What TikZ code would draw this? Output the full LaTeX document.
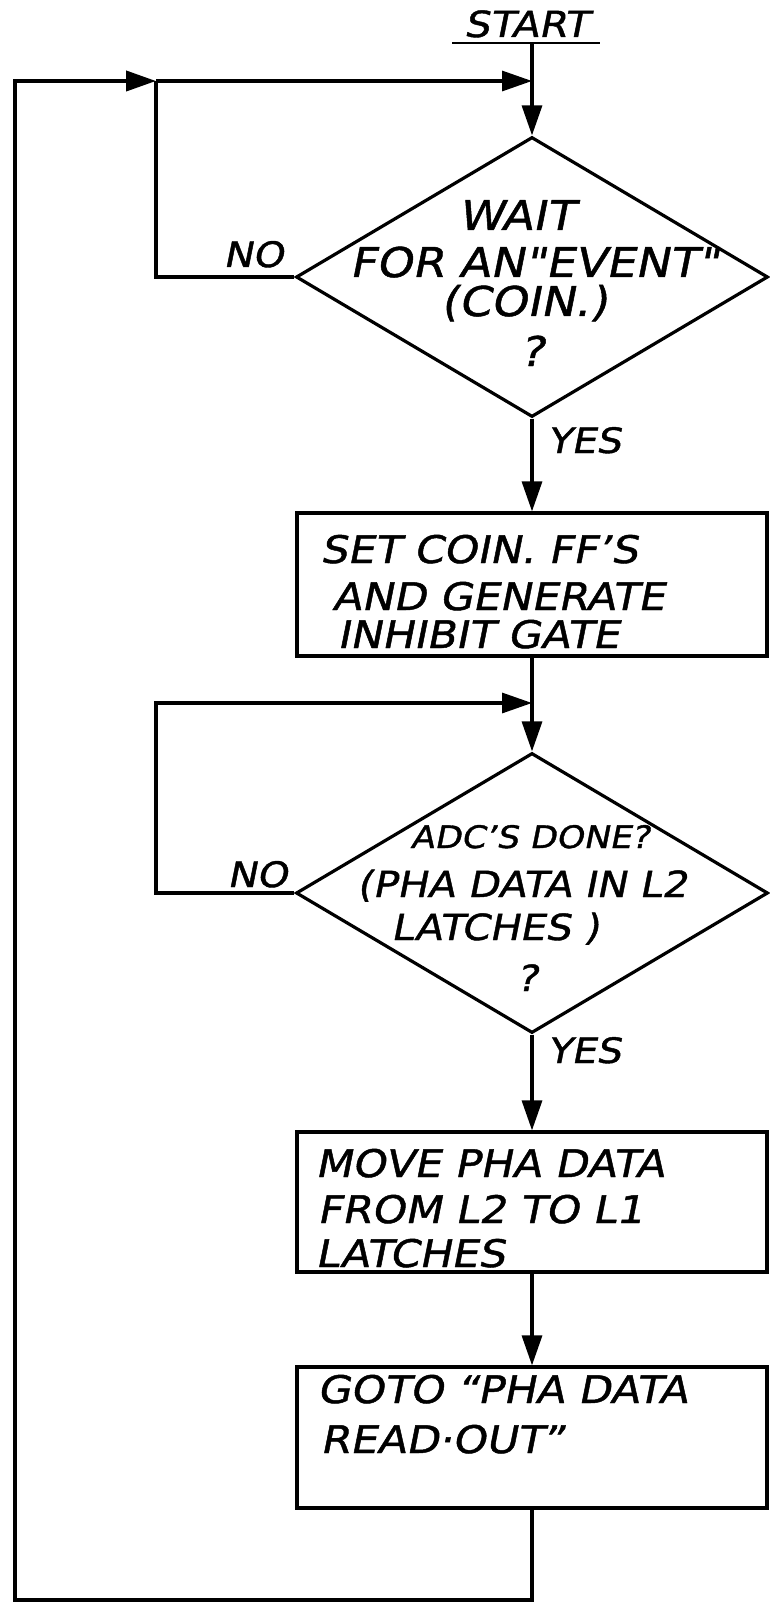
\documentclass[tikz,border=0pt]{standalone}
\usepackage{fontspec}
\newfontfamily\hand[FakeStretch=1.12,FakeSlant=0.2,FakeBold=1.2]{DejaVu Sans}
\usetikzlibrary{arrows.meta,shapes.geometric}
\begin{document}
\begin{tikzpicture}[x=1pt,y=-1pt,
  ln/.style={line width=3.2pt},
  arr/.style={ln,-{Triangle[length=30pt,width=20pt]}},
  decbox/.style={diamond,draw,ln,minimum width=472pt,minimum height=280pt,inner sep=0pt},
  procbox/.style={rectangle,draw,ln,minimum width=470pt,minimum height=#1,inner sep=0pt},
  btxt/.style={anchor=base west,inner sep=0pt,font=\hand\fontsize{38}{42}\selectfont},
  dtxtA/.style={anchor=base,inner sep=0pt,font=\hand\fontsize{41}{45}\selectfont},
  dtxtB/.style={anchor=base,inner sep=0pt,font=\hand\fontsize{36}{40}\selectfont},
  lab/.style={anchor=base west,inner sep=0pt,font=\hand\fontsize{35}{40}\selectfont}]
\useasboundingbox (0,0) rectangle (769,1602);

% start
\node[anchor=base,inner sep=0pt,font=\hand\fontsize{36}{40}\selectfont] (start) at (526,37) {START};
\coordinate (ul1) at (452,43);
\coordinate (ul2) at (600,43);
\draw[line width=2.6pt] (ul1) -- (ul2);

% shapes
\node[decbox] (d1) at (532,277) {};
\node[procbox=143pt] (b1) at (532,584.5) {};
\node[decbox] (d2) at (532,893) {};
\node[procbox=140pt] (b3) at (532,1202) {};
\node[procbox=141pt] (b4) at (532,1437.5) {};

% junctions
\coordinate (s0) at (532,43);
\coordinate (j1) at (532,81);
\coordinate (j2) at (156,81);
\coordinate (j0) at (15,81);
\coordinate (j3) at (532,703);
\coordinate (j4) at (156,703);
\coordinate (bl) at (15,1600);

% connectors
\draw[arr] (s0) -- (d1.north);
\draw[arr,line width=4pt] (b4.south) |- (bl) -- (j0) -- (j2);
\draw[arr] (j2) -- (j1);
\draw[ln] (d1.west) -| (j2);
\draw[arr] (d1.south) -- (b1.north);
\draw[arr] (b1.south) -- (d2.north);
\draw[arr] (d2.west) -| (j4) -- (j3);
\draw[arr] (d2.south) -- (b3.north);
\draw[arr] (b3.south) -- (b4.north);

% labels
\node[lab] (no1) at (223,267) {NO};
\node[lab] (yes1) at (547,453) {YES};
\node[lab] (no2) at (227,887) {NO};
\node[lab] (yes2) at (547,1063) {YES};

% diamond 1 text
\node[dtxtA] (d1a) at (516,230) {WAIT};
\node[dtxtA] (d1b) at (534,277) {FOR AN"EVENT"};
\node[dtxtA] (d1c) at (524,316) {(COIN.)};
\node[dtxtA] (d1d) at (532,366) {?};

% box 1 text
\node[btxt] (b1a) at (320,563) {SET COIN. FF’S};
\node[btxt] (b1b) at (332,610) {AND GENERATE};
\node[btxt] (b1c) at (337,648) {INHIBIT GATE};

% diamond 2 text
\node[dtxtB,font=\hand\fontsize{31}{36}\selectfont] (d2a) at (530,848) {ADC’S DONE?};
\node[dtxtB] (d2b) at (522,897) {(PHA DATA IN L2};
\node[dtxtB] (d2c) at (495,940) {LATCHES )};
\node[dtxtB] (d2d) at (527,991) {?};

% box 3 text
\node[btxt] (b3a) at (315,1177) {MOVE PHA DATA};
\node[btxt] (b3b) at (317,1223) {FROM L2 TO L1};
\node[btxt] (b3c) at (315,1267) {LATCHES};

% box 4 text
\node[btxt] (b4a) at (317,1403) {GOTO “PHA DATA};
\node[btxt] (b4b) at (320,1453) {READ·OUT”};
\end{tikzpicture}
\end{document}
